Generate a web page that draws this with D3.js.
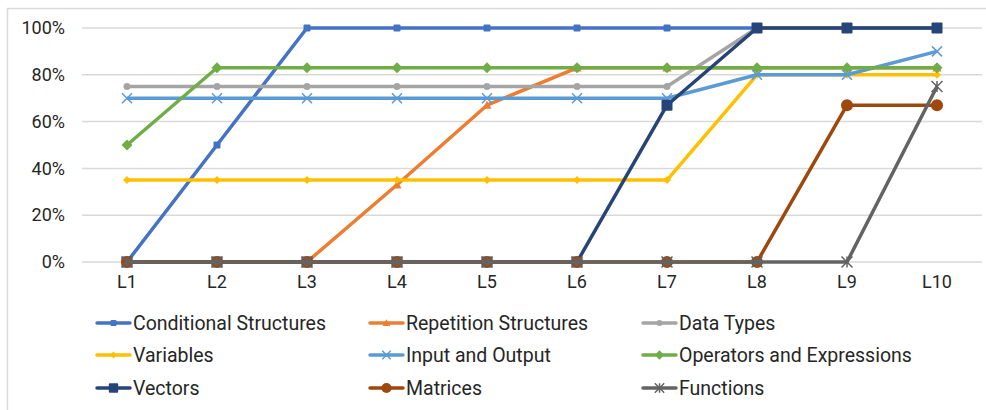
<!DOCTYPE html>
<html>
<head>
<meta charset="utf-8">
<script src="https://cdn.jsdelivr.net/npm/d3@7"></script>
<style>
  body { margin: 0; background: #fff; }
  svg { display: block; font-family: Roboto, "Noto Sans", sans-serif; }
</style>
</head>
<body>
<div id="chart"></div>
<script>
// lessons on the x axis
const lessons = ["L1", "L2", "L3", "L4", "L5", "L6", "L7", "L8", "L9", "L10"];
const yTicks = [0, 0.2, 0.4, 0.6, 0.8, 1.0];

// share of students per topic
const conditionalStructures = [0, 0.50, 1, 1, 1, 1, 1, 1, 1, 1];
const repetitionStructures = [0, 0, 0, 0.33, 0.67, 0.83, 0.83, 0.83, 0.83, 0.83];
const dataTypes = [0.75, 0.75, 0.75, 0.75, 0.75, 0.75, 0.75, 1, 1, 1];
const variables = [0.35, 0.35, 0.35, 0.35, 0.35, 0.35, 0.35, 0.80, 0.80, 0.80];
const inputOutput = [0.70, 0.70, 0.70, 0.70, 0.70, 0.70, 0.70, 0.80, 0.80, 0.90];
const operators = [0.50, 0.83, 0.83, 0.83, 0.83, 0.83, 0.83, 0.83, 0.83, 0.83];
const vectors = [0, 0, 0, 0, 0, 0, 0.67, 1, 1, 1];
const matrices = [0, 0, 0, 0, 0, 0, 0, 0, 0.67, 0.67];
const functions = [0, 0, 0, 0, 0, 0, 0, 0, 0, 0.75];

const seriesNames = ["Conditional Structures", "Repetition Structures", "Data Types",
  "Variables", "Input and Output", "Operators and Expressions",
  "Vectors", "Matrices", "Functions"];
const seriesValues = [conditionalStructures, repetitionStructures, dataTypes,
  variables, inputOutput, operators, vectors, matrices, functions];
const seriesColors = ["#4472C4", "#ED7D31", "#A5A5A5", "#FFC000", "#5B9BD5",
  "#70AD47", "#264478", "#9E480E", "#636363"];
const seriesMarkers = ["square", "triangle", "circle", "diamond", "cross",
  "diamond", "square", "circle", "star"];
const markerSizes = [7, 9, 7, 8, 10, 11, 11, 12, 11];

const series = seriesNames.map((name, i) => ({
  name: name, values: seriesValues[i], color: seriesColors[i],
  marker: seriesMarkers[i], size: markerSizes[i]
}));

const W = 986, H = 410;
const plot = { left: 82, right: 982, top: 28, bottom: 262 };

const svg = d3.select("#chart").append("svg")
  .attr("width", W).attr("height", H);

// chart area border (only top/left show in the frame)
svg.append("rect")
  .attr("x", 7.5).attr("y", 8.5)
  .attr("width", 990).attr("height", 420)
  .attr("fill", "none").attr("stroke", "#d9d9d9").attr("stroke-width", 1.5);

const x = d3.scaleBand().domain(lessons).range([plot.left, plot.right]);
const y = d3.scaleLinear().domain([0, 1]).range([plot.bottom, plot.top]);

// gridlines
svg.append("g")
  .selectAll("line")
  .data(yTicks)
  .enter()
  .append("line")
  .attr("x1", plot.left).attr("x2", plot.right)
  .attr("y1", d => y(d)).attr("y2", d => y(d))
  .attr("stroke", "#d9d9d9").attr("stroke-width", 1.5);

// y axis labels
const yAxis = svg.append("g")
  .attr("transform", "translate(" + plot.left + ",0)")
  .call(d3.axisLeft(y).tickValues(yTicks).tickFormat(d3.format(".0%")).tickSize(0).tickPadding(17));
yAxis.select(".domain").remove();
yAxis.selectAll("text").attr("font-size", "18px").attr("fill", "#262626")
  .attr("font-family", "Roboto, sans-serif");

// x axis labels
const xAxis = svg.append("g")
  .attr("transform", "translate(0," + plot.bottom + ")")
  .call(d3.axisBottom(x).tickSize(0).tickPadding(13));
xAxis.select(".domain").remove();
xAxis.selectAll("text").attr("font-size", "18px").attr("fill", "#262626")
  .attr("font-family", "Roboto, sans-serif");

function drawMarker(g, s, cx, cy, scale) {
  const r = s.size / 2 * scale;
  if (s.marker === "square") {
    g.append("rect").attr("x", cx - r).attr("y", cy - r)
      .attr("width", 2 * r).attr("height", 2 * r).attr("rx", 1)
      .attr("fill", s.color);
  } else if (s.marker === "circle") {
    g.append("circle").attr("cx", cx).attr("cy", cy).attr("r", r).attr("fill", s.color);
  } else if (s.marker === "diamond") {
    g.append("path").attr("d", `M${cx},${cy - r}L${cx + r},${cy}L${cx},${cy + r}L${cx - r},${cy}Z`)
      .attr("fill", s.color);
  } else if (s.marker === "triangle") {
    g.append("path").attr("d", `M${cx},${cy - r}L${cx + r},${cy + r * 0.8}L${cx - r},${cy + r * 0.8}Z`)
      .attr("fill", s.color);
  } else if (s.marker === "cross") {
    g.append("path").attr("d", `M${cx - r},${cy - r}L${cx + r},${cy + r}M${cx - r},${cy + r}L${cx + r},${cy - r}`)
      .attr("stroke", s.color).attr("stroke-width", 1.5).attr("fill", "none");
  } else if (s.marker === "star") {
    g.append("path").attr("d", `M${cx - r},${cy - r}L${cx + r},${cy + r}M${cx - r},${cy + r}L${cx + r},${cy - r}M${cx},${cy - r}L${cx},${cy + r}`)
      .attr("stroke", s.color).attr("stroke-width", 1.5).attr("fill", "none");
  }
}

const line = d3.line()
  .x((d, i) => x(lessons[i]) + x.bandwidth() / 2)
  .y(d => y(d));

// series, later ones on top like Excel
series.forEach(s => {
  const g = svg.append("g");
  g.append("path")
    .datum(s.values)
    .attr("d", line)
    .attr("fill", "none")
    .attr("stroke", s.color)
    .attr("stroke-width", 3.5)
    .attr("stroke-linejoin", "round");
  s.values.forEach((v, i) => {
    drawMarker(g, s, x(lessons[i]) + x.bandwidth() / 2, y(v), 1);
  });
});

// legend, three columns
const legendX = [97, 370, 643];
const legendY = [323, 355, 388];
series.forEach((s, i) => {
  const lx = legendX[i % 3], ly = legendY[Math.floor(i / 3)];
  const g = svg.append("g");
  g.append("line")
    .attr("x1", lx).attr("x2", lx + 33)
    .attr("y1", ly).attr("y2", ly)
    .attr("stroke", s.color).attr("stroke-width", 3.5).attr("stroke-linecap", "round");
  drawMarker(g, s, lx + 16.5, ly, 0.85);
  g.append("text")
    .attr("x", lx + 36).attr("y", ly)
    .attr("dy", "0.35em")
    .attr("font-size", "19.5px")
    .attr("fill", "#262626")
    .text(s.name);
});
</script>
</body>
</html>
